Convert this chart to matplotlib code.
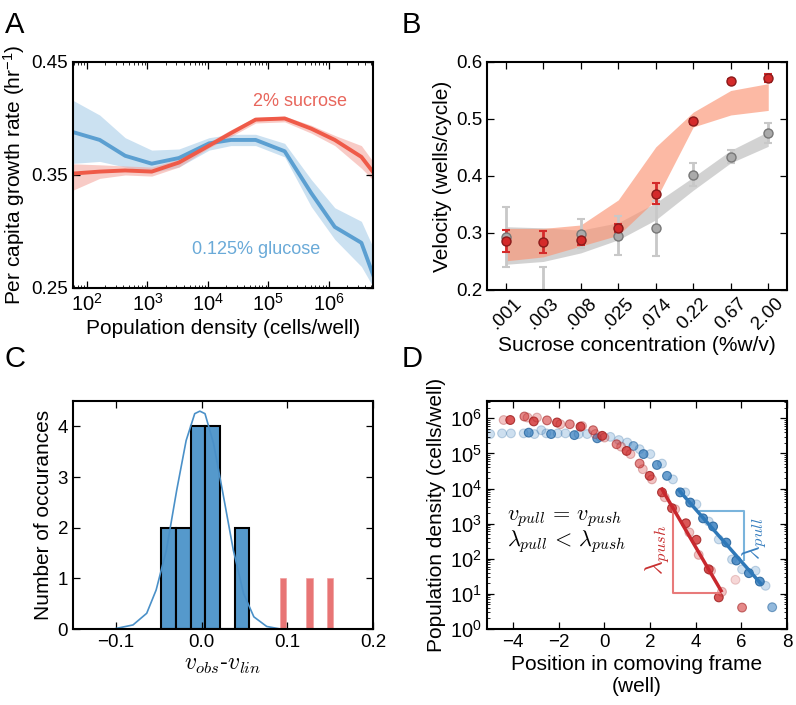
import numpy as np
import matplotlib
matplotlib.use("Agg")
import matplotlib.pyplot as plt
from matplotlib.colors import to_rgba_array
from matplotlib.ticker import FuncFormatter, LogLocator, NullFormatter

# ---- panel A: growth rate vs density ----
a_log_density = [1.70, 2.21, 2.63, 3.07, 3.52, 4.02, 4.38, 4.79, 5.27, 5.71, 6.10, 6.54, 6.80]
a_glu = [0.389, 0.381, 0.367, 0.360, 0.365, 0.378, 0.381, 0.381, 0.371, 0.334, 0.304, 0.290, 0.252]
a_glu_lo = [0.360, 0.362, 0.357, 0.352, 0.357, 0.372, 0.376, 0.376, 0.366, 0.322, 0.293, 0.269, 0.245]
a_glu_hi = [0.418, 0.403, 0.383, 0.372, 0.373, 0.383, 0.386, 0.386, 0.378, 0.346, 0.321, 0.309, 0.278]
a_suc = [0.351, 0.353, 0.354, 0.353, 0.361, 0.376, 0.387, 0.399, 0.400, 0.391, 0.381, 0.366, 0.348]
a_suc_lo = [0.335, 0.347, 0.350, 0.349, 0.357, 0.374, 0.384, 0.396, 0.397, 0.387, 0.376, 0.356, 0.342]
a_suc_hi = [0.360, 0.359, 0.358, 0.357, 0.364, 0.379, 0.390, 0.401, 0.402, 0.394, 0.385, 0.376, 0.357]

# ---- panel B: velocity vs sucrose ----
b_labels = ['.001', '.003', '.008', '.025', '.074', '0.22', '0.67', '2.00']
b_red = [0.286, 0.284, 0.288, 0.309, 0.369, 0.496, 0.567, 0.572]
b_red_err = [0.019, 0.020, 0.009, 0.007, 0.018, 0.004, 0.003, 0.007]
b_gray = [0.293, 0.190, 0.299, 0.295, 0.308, 0.402, 0.434, 0.475]
b_gray_err = [0.052, 0.050, 0.026, 0.034, 0.048, 0.020, 0.012, 0.018]
b_red_lo = [0.251, 0.258, 0.277, 0.296, 0.358, 0.486, 0.507, 0.515]
b_red_hi = [0.308, 0.308, 0.314, 0.358, 0.451, 0.512, 0.550, 0.562]
b_gray_lo = [0.245, 0.250, 0.265, 0.288, 0.323, 0.375, 0.423, 0.452]
b_gray_hi = [0.311, 0.309, 0.305, 0.318, 0.353, 0.398, 0.445, 0.478]

# ---- panel C: residual histogram ----
c_edges = [-0.0473, -0.0301, -0.0129, 0.0043, 0.0215, 0.0387, 0.0559]
c_counts = [2, 2, 4, 4, 0, 2]
c_out_x = [0.0949, 0.1258, 0.1500]
c_out_counts = [1, 1, 1]
c_fit_x = [-0.100, -0.080, -0.064, -0.053, -0.041, -0.029, -0.018, -0.008, -0.002,
           0.004, 0.014, 0.025, 0.037, 0.049, 0.061, 0.076, 0.092]
c_fit_y = [0.01, 0.08, 0.31, 0.77, 1.56, 2.74, 3.72, 4.25, 4.30,
           4.25, 3.66, 2.67, 1.56, 0.70, 0.24, 0.05, 0.00]

# ---- panel D: profiles in comoving frame (log10 density) ----
d_red_x = [-4.42, -4.13, -3.51, -3.37, -3.10, -2.96, -2.52, -2.08, -1.93, -1.52,
           -1.05, -0.98, -0.50, -0.40, -0.10, 0.00, 0.53, 0.73, 0.97, 1.14,
           1.54, 1.68, 1.98, 2.08, 2.52, 2.64, 2.96, 3.10, 3.57, 3.72,
           4.03, 4.13, 4.57, 4.67, 5.01, 5.15, 5.74, 6.03]
d_red_logy = [5.95, 5.95, 6.05, 6.02, 5.91, 6.02, 5.94, 5.88, 5.83, 5.83,
              5.76, 5.78, 5.66, 5.55, 5.50, 5.45, 5.26, 5.19, 5.07, 4.98,
              4.71, 4.55, 4.36, 4.26, 3.89, 3.75, 3.44, 3.41, 3.01, 2.75,
              2.54, 2.11, 1.70, 1.66, 0.90, 1.06, 1.40, 0.61]
d_red_alpha = [0.3, 0.85, 0.6, 0.3, 0.85, 0.3, 0.6, 0.85, 0.3, 0.6,
               0.85, 0.3, 0.6, 0.3, 0.85, 0.3, 0.6, 0.3, 0.85, 0.3,
               0.6, 0.3, 0.85, 0.3, 0.85, 0.3, 0.85, 0.3, 0.85, 0.3,
               0.85, 0.3, 0.85, 0.3, 0.85, 0.3, 0.2, 0.6]
d_blue_x = [-5.01, -4.49, -4.10, -3.54, -3.32, -3.07, -2.77, -2.55, -2.34, -2.05,
            -1.71, -1.32, -1.13, -0.76, -0.32, -0.18, 0.26, 0.63, 1.00, 1.27,
            1.54, 1.71, 2.01, 2.30, 2.52, 2.74, 3.00, 3.32, 3.54, 3.76,
            4.03, 4.32, 4.57, 4.76, 5.01, 5.34, 5.59, 5.78, 6.03, 6.33,
            6.62, 6.81, 7.06, 7.35]
d_blue_logy = [5.55, 5.57, 5.57, 5.57, 5.59, 5.55, 5.66, 5.57, 5.55, 5.57,
               5.57, 5.52, 5.55, 5.55, 5.43, 5.47, 5.47, 5.38, 5.31, 5.21,
               5.12, 4.98, 4.98, 4.67, 4.71, 4.36, 4.26, 3.89, 3.89, 3.60,
               3.55, 3.15, 3.06, 2.92, 2.55, 2.46, 1.98, 1.95, 1.70, 1.59,
               1.66, 1.35, 1.23, 0.62]
d_blue_alpha = [0.25, 0.25, 0.25, 0.25, 0.75, 0.25, 0.25, 0.25, 0.75, 0.25,
                0.25, 0.75, 0.25, 0.25, 0.75, 0.25, 0.25, 0.25, 0.25, 0.55,
                0.25, 0.75, 0.25, 0.75, 0.25, 0.75, 0.25, 0.85, 0.25, 0.85,
                0.25, 0.85, 0.25, 0.85, 0.25, 0.85, 0.25, 0.85, 0.25, 0.85,
                0.25, 0.85, 0.25, 0.55]
d_red_fit_x = [2.52, 5.11]
d_red_fit_logy = [3.98, 1.09]
d_blue_fit_x = [3.25, 6.84]
d_blue_fit_logy = [3.96, 1.30]
d_red_tri_x = [2.99, 2.99, 5.08]
d_red_tri_logy = [3.41, 1.02, 1.02]
d_blue_tri_x = [4.20, 6.10, 6.10]
d_blue_tri_logy = [3.36, 3.36, 1.97]

plt.rcParams['font.family'] = ['Liberation Sans', 'DejaVu Sans']
plt.rcParams['mathtext.fontset'] = 'cm'
plt.rcParams['xtick.direction'] = 'in'
plt.rcParams['ytick.direction'] = 'in'
plt.rcParams['xtick.top'] = True
plt.rcParams['ytick.right'] = True
plt.rcParams['xtick.major.size'] = 5
plt.rcParams['ytick.major.size'] = 5
plt.rcParams['xtick.minor.size'] = 2.5
plt.rcParams['ytick.minor.size'] = 2.5
plt.rcParams['xtick.major.width'] = 0.9
plt.rcParams['ytick.major.width'] = 0.9
plt.rcParams['axes.linewidth'] = 1.5
plt.rcParams['xtick.labelsize'] = 13.5
plt.rcParams['ytick.labelsize'] = 13.5
plt.rcParams['axes.labelsize'] = 15


def pow10(v, pos):
    return r'$\mathregular{10^{%d}}$' % int(round(np.log10(v)))


fig = plt.figure(figsize=(7.96, 7.05), dpi=100)
axA = fig.add_axes([0.0917, 0.5915, 0.3769, 0.3206])
axB = fig.add_axes([0.6118, 0.5887, 0.3769, 0.3234])
axC = fig.add_axes([0.0917, 0.1078, 0.3769, 0.3234])
axD = fig.add_axes([0.6118, 0.1078, 0.3769, 0.3234])

# panel A
xa = [10 ** v for v in a_log_density]
axA.fill_between(xa, a_glu_lo, a_glu_hi, color='#a9cde9', alpha=0.6, lw=0)
axA.fill_between(xa, a_suc_lo, a_suc_hi, color='#f4a198', alpha=0.55, lw=0)
axA.plot(xa, a_glu, color='#5b9fd1', lw=2.8)
axA.plot(xa, a_suc, color='#ef5a48', lw=2.8)
axA.set_xscale('log')
axA.set_xlim(58.5, 5.4e6)
axA.set_ylim(0.25, 0.45)
axA.set_yticks([0.25, 0.35, 0.45])
axA.xaxis.set_major_locator(LogLocator(base=10, numticks=10))
axA.xaxis.set_major_formatter(FuncFormatter(pow10))
axA.xaxis.set_minor_locator(LogLocator(base=10, subs=np.arange(2, 10), numticks=20))
axA.xaxis.set_minor_formatter(NullFormatter())
axA.tick_params(axis='x', labelsize=14.5)
axA.text(10 ** 4.74, 0.415, '2% sucrose', color='#e8665c', fontsize=13, va='center')
axA.text(10 ** 3.74, 0.284, '0.125% glucose', color='#6aaad8', fontsize=13, va='center')
axA.set_xlabel('Population density (cells/well)', labelpad=3)
axA.set_ylabel(r'Per capita growth rate (hr$\mathregular{^{-1}}$)', labelpad=3)

# panel B
xb = np.arange(len(b_labels))
axB.fill_between(xb, b_gray_lo, b_gray_hi, color='#c4c4c4', alpha=0.75, lw=0)
axB.fill_between(xb, b_red_lo, b_red_hi, color='#fb9474', alpha=0.65, lw=0)
axB.errorbar(xb, b_gray, yerr=b_gray_err, fmt='o', color='#aaaaaa', ecolor='#c8c8c8',
             mec='#777777', ms=6.5, elinewidth=2, capsize=3, capthick=1.5)
axB.errorbar(xb, b_red, yerr=b_red_err, fmt='o', color='#d42a2a', ecolor='#d42a2a',
             mec='#8a1a1a', ms=6.5, elinewidth=2, capsize=3, capthick=1.5)
axB.set_xlim(-0.5, 7.5)
axB.set_ylim(0.2, 0.6)
axB.set_yticks([0.2, 0.3, 0.4, 0.5, 0.6])
axB.set_xticks(xb)
axB.set_xticklabels(b_labels, rotation=45, ha='center')
axB.set_xlabel('Sucrose concentration (%w/v)', labelpad=2)
axB.set_ylabel('Velocity (wells/cycle)', labelpad=3)

# panel C
axC.bar(c_edges[:-1], c_counts, width=np.diff(c_edges), align='edge',
        color='#5599cc', edgecolor='k', lw=1.5)
axC.bar(c_out_x, c_out_counts, width=0.0075, color='#e87575', edgecolor='#f0a0a0', lw=0.5)
axC.plot(c_fit_x, c_fit_y, color='#4a90c8', lw=1.2)
axC.set_xlim(-0.15, 0.2)
axC.set_ylim(0, 4.5)
axC.set_xticks([-0.1, 0.0, 0.1, 0.2])
axC.set_yticks([0, 1, 2, 3, 4])
axC.set_xlabel(r'$v_{obs}$-$v_{lin}$', fontsize=17, labelpad=2)
axC.set_ylabel('Number of occurances', labelpad=3)

# panel D
red_fc = to_rgba_array(['#d43a3a'] * len(d_red_x))
red_fc[:, 3] = d_red_alpha
blue_fc = to_rgba_array(['#3a80c0'] * len(d_blue_x))
blue_fc[:, 3] = d_blue_alpha
red_ec = to_rgba_array(['#a02020'] * len(d_red_x))
red_ec[:, 3] = d_red_alpha
blue_ec = to_rgba_array(['#20609a'] * len(d_blue_x))
blue_ec[:, 3] = d_blue_alpha
axD.scatter(d_blue_x, [10 ** v for v in d_blue_logy], s=40, c=blue_fc, edgecolors=blue_ec, lw=0.8)
axD.scatter(d_red_x, [10 ** v for v in d_red_logy], s=40, c=red_fc, edgecolors=red_ec, lw=0.8)
axD.plot(d_red_tri_x, [10 ** v for v in d_red_tri_logy], color='#e87a7a', lw=1.5)
axD.plot(d_blue_tri_x, [10 ** v for v in d_blue_tri_logy], color='#7ab4dc', lw=1.5)
axD.plot(d_red_fit_x, [10 ** v for v in d_red_fit_logy], color='#c8282e', lw=2.5)
axD.plot(d_blue_fit_x, [10 ** v for v in d_blue_fit_logy], color='#2e78b8', lw=2.5)
axD.set_yscale('log')
axD.set_xlim(-5.15, 8)
axD.set_ylim(1, 3.1e6)
axD.set_xticks([-4, -2, 0, 2, 4, 6, 8])
axD.yaxis.set_major_locator(LogLocator(base=10, numticks=10))
axD.yaxis.set_major_formatter(FuncFormatter(pow10))
axD.yaxis.set_minor_locator(LogLocator(base=10, subs=np.arange(2, 10), numticks=20))
axD.yaxis.set_minor_formatter(NullFormatter())
axD.tick_params(axis='y', labelsize=14.5)
axD.text(-4.28, 10 ** 3.16, r'$v_{pull}\,=\,v_{push}$', fontsize=16, va='center')
axD.text(-4.28, 10 ** 2.48, r'$\lambda_{pull}\,<\,\lambda_{push}$', fontsize=16, va='center')
axD.text(2.3, 10 ** 2.25, r'$\lambda_{push}$', fontsize=17, color='#c83030',
         rotation=90, ha='center', va='center')
axD.text(6.55, 10 ** 2.58, r'$\lambda_{pull}$', fontsize=17, color='#3a80c0',
         rotation=90, ha='center', va='center')
axD.set_xlabel('Position in comoving frame\n(well)', labelpad=3, linespacing=1.2)
axD.set_ylabel('Population density (cells/well)', labelpad=3)

for ax in (axA, axB, axC, axD):
    for sp in ax.spines.values():
        sp.set_zorder(5)

fig.text(5 / 796, 1 - 11 / 705, 'A', fontsize=21, va='top', ha='left')
fig.text(402 / 796, 1 - 11 / 705, 'B', fontsize=21, va='top', ha='left')
fig.text(5 / 796, 1 - 345 / 705, 'C', fontsize=21, va='top', ha='left')
fig.text(402 / 796, 1 - 345 / 705, 'D', fontsize=21, va='top', ha='left')

fig.savefig('out.png', dpi=100)
